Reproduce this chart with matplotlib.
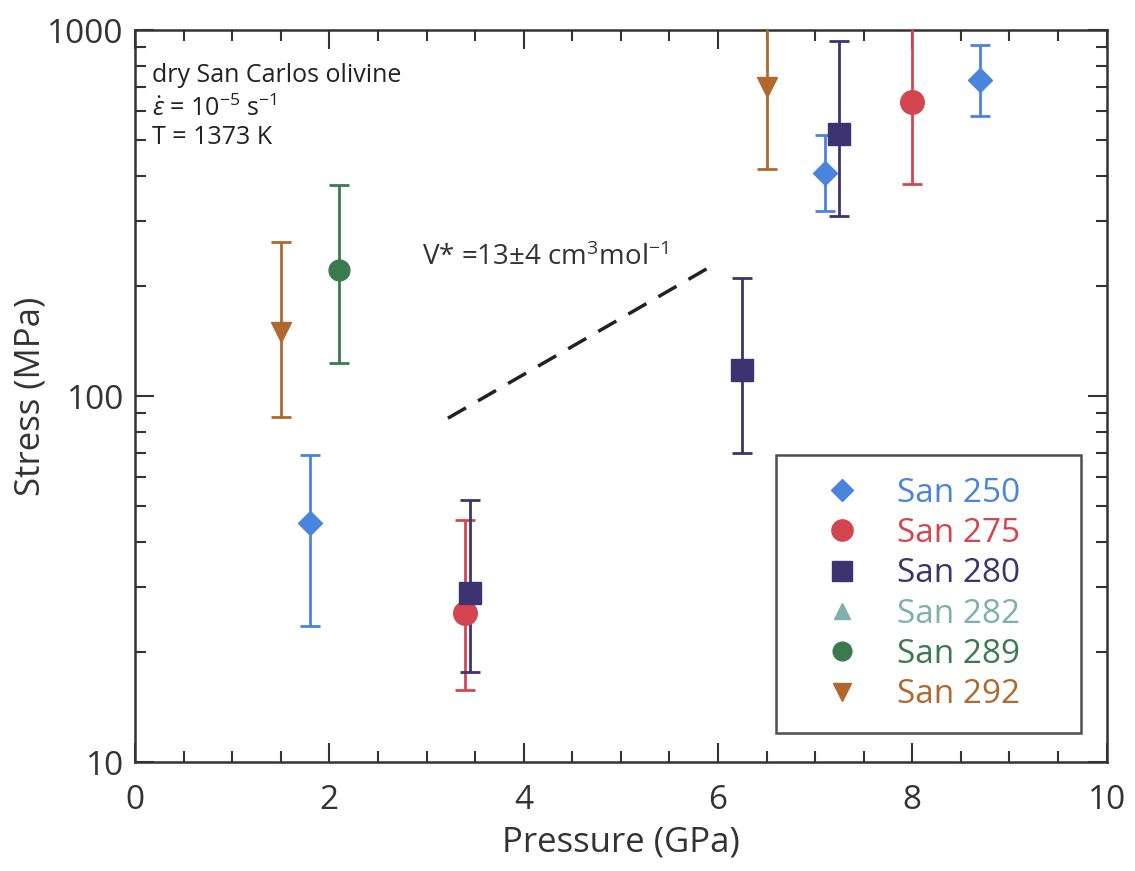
import matplotlib.pyplot as plt
from matplotlib.lines import Line2D

plt.rcParams['font.family'] = ['Open Sans', 'DejaVu Sans']
plt.rcParams['mathtext.fontset'] = 'custom'
plt.rcParams['mathtext.rm'] = 'Open Sans'
plt.rcParams['mathtext.it'] = 'Open Sans:italic'

# sample data: pressure (GPa), stress (MPa), error bar lower / upper ends (MPa)
p250 = [1.8, 7.1, 8.7]
s250 = [45, 406, 730]
lo250 = [23.5, 320, 582]
hi250 = [69, 517, 910]

p275 = [3.4, 8.0]
s275 = [25.5, 636]
lo275 = [15.7, 380]
hi275 = [45.8, 1200]

p280 = [3.45, 6.25, 7.25]
s280 = [29, 118, 520]
lo280 = [17.6, 70, 310]
hi280 = [52, 210, 933]

p289 = [2.1]
s289 = [221]
lo289 = [123]
hi289 = [377]

p292 = [1.5, 6.5]
s292 = [150, 699]
lo292 = [87.7, 417]
hi292 = [264, 1200]

trend_p = [3.22, 6.0]
trend_s = [87, 232]

labels = ['San 250', 'San 275', 'San 280', 'San 282', 'San 289', 'San 292']
colors = ['#4a84dc', '#d4464f', '#3e3371', '#7fb0ab', '#3b7a4e', '#b0682e']
markers = ['D', 'o', 's', '^', 'o', 'v']
msizes = [12, 17, 16, 13, 15, 14]

fig = plt.figure(figsize=(11.35, 8.71), dpi=100)
ax = fig.add_axes([0.119, 0.125, 0.856, 0.8405])

series = [(p250, s250, lo250, hi250, 0), (p275, s275, lo275, hi275, 1),
          (p280, s280, lo280, hi280, 2), (p289, s289, lo289, hi289, 4),
          (p292, s292, lo292, hi292, 5)]
for p, s, lo, hi, i in series:
    yerr = [[a - b for a, b in zip(s, lo)], [b - a for a, b in zip(s, hi)]]
    ax.errorbar(p, s, yerr=yerr, fmt=markers[i], color=colors[i], ms=msizes[i],
                elinewidth=2, capsize=7, capthick=2, zorder=3)

ax.plot(trend_p, trend_s, color='#222222', lw=2.5, dashes=(6, 4))
ax.text(2.95, 238, 'V* =13±4 cm$^3$mol$^{-1}$', fontsize=20, color='#333333',
        va='center')

ax.text(0.017, 0.938, 'dry San Carlos olivine', transform=ax.transAxes,
        fontsize=18, color='#222222', va='center')
ax.text(0.017, 0.893, r'$\dot{\varepsilon}$ = 10$^{-5}$ s$^{-1}$', transform=ax.transAxes,
        fontsize=18, color='#222222', va='center')
ax.text(0.017, 0.853, 'T = 1373 K', transform=ax.transAxes,
        fontsize=18, color='#222222', va='center')

ax.set_yscale('log')
ax.set_xlim(0, 10)
ax.set_ylim(10, 1000)
ax.set_xticks(range(0, 11, 2))
ax.set_xticks([x * 0.5 for x in range(21)], minor=True)
ax.set_yticks([10, 100, 1000])
ax.set_yticklabels(['10', '100', '1000'])
ax.tick_params(which='both', direction='in', top=True, right=True, width=1.5,
               labelsize=24, colors='#333333')
ax.tick_params(which='major', length=14)
ax.tick_params(which='minor', length=8)
ax.tick_params(axis='x', pad=16)
ax.tick_params(axis='y', pad=8)
for sp in ax.spines.values():
    sp.set_linewidth(1.8)
    sp.set_color('#333333')

ax.set_xlabel('Pressure (GPa)', fontsize=25, color='#333333', labelpad=6)
ax.set_ylabel('Stress (MPa)', fontsize=25, color='#333333', labelpad=0)

handles = [Line2D([], [], ls='none', marker=markers[i], color=colors[i],
                  ms=msizes[i] * 0.9) for i in range(6)]
padded = [lab + '\u2002\u2002\u2009' for lab in labels]
leg = ax.legend(handles, padded, loc='lower right', bbox_to_anchor=(0.974, 0.04),
                fontsize=24, labelcolor=colors, frameon=True, fancybox=False,
                borderpad=0.65, handletextpad=0.3, labelspacing=0.22,
                borderaxespad=0, handlelength=2.7)
leg.get_frame().set_edgecolor('#222222')
leg.get_frame().set_linewidth(1.8)

fig.savefig('out.png', dpi=100)
